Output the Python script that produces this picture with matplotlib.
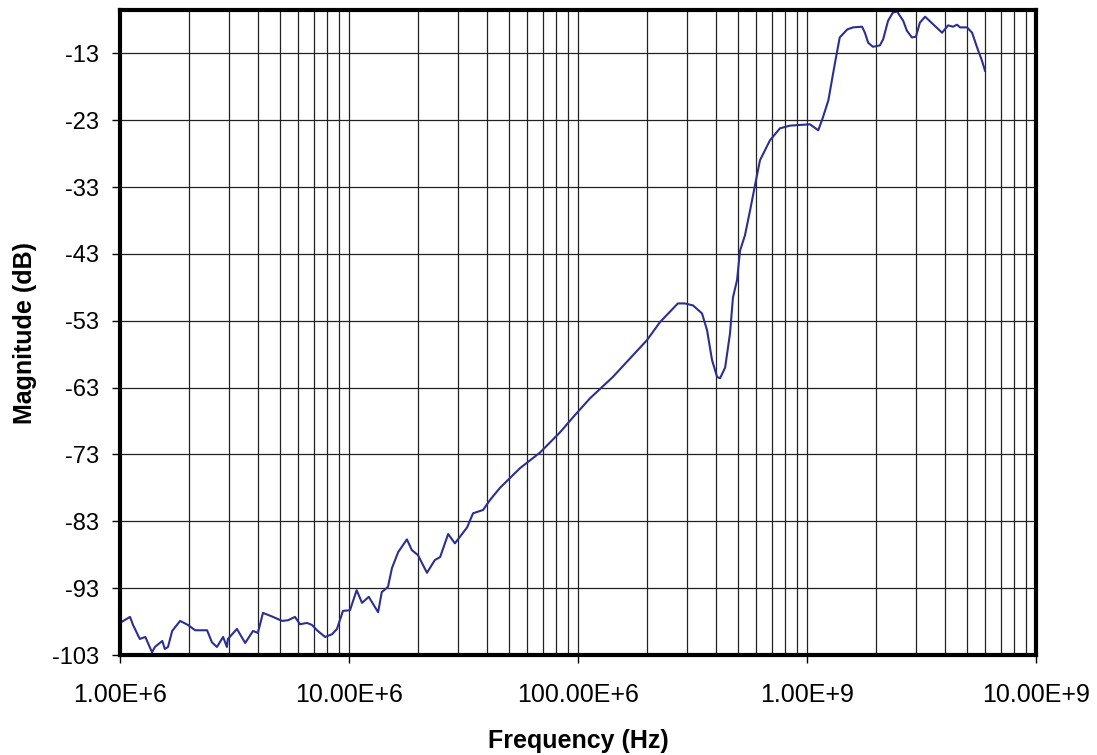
import numpy as np
import matplotlib
matplotlib.use("Agg")
import matplotlib.pyplot as plt
from matplotlib.ticker import FixedLocator, NullFormatter

# frequency response (Hz, dB)
freq_hz = [1.00e6, 1.106e6, 1.14e6, 1.22e6, 1.29e6, 1.38e6, 1.42e6, 1.53e6, 1.57e6, 1.62e6,
           1.69e6, 1.83e6, 1.98e6, 2.13e6, 2.40e6, 2.52e6, 2.65e6, 2.82e6, 2.93e6, 2.96e6,
           3.24e6, 3.52e6, 3.81e6, 4.00e6, 4.21e6, 4.66e6, 5.10e6, 5.42e6, 5.81e6, 6.11e6,
           6.55e6, 6.89e6, 7.25e6, 7.86e6, 8.43e6, 8.86e6, 9.41e6, 10.1e6, 10.8e6, 11.4e6,
           12.2e6, 13.4e6, 13.9e6, 14.8e6, 15.4e6, 16.4e6, 17.9e6, 18.8e6, 20.0e6, 21.9e6,
           23.7e6, 25.0e6, 27.1e6, 29.0e6, 32.8e6, 34.8e6, 38.5e6, 41.3e6, 45.6e6, 55.8e6,
           68.3e6, 83.4e6, 97.0e6, 112.8e6, 142e6, 169e6, 200e6, 228e6, 273e6, 293e6,
           318e6, 348e6, 366e6, 385e6, 405e6, 417e6, 439e6, 461e6, 475e6, 495e6,
           510e6, 536e6, 564e6, 593e6, 623e6, 655e6, 689e6, 762e6, 843e6, 1.03e9,
           1.12e9, 1.17e9, 1.24e9, 1.30e9, 1.33e9, 1.39e9, 1.50e9, 1.59e9, 1.74e9, 1.79e9,
           1.85e9, 1.94e9, 2.08e9, 2.15e9, 2.26e9, 2.37e9, 2.47e9, 2.63e9, 2.73e9, 2.87e9,
           2.99e9, 3.11e9, 3.28e9, 3.52e9, 3.89e9, 4.13e9, 4.34e9, 4.52e9, 4.66e9, 5.00e9,
           5.26e9, 5.53e9, 5.81e9, 5.99e9]
magnitude_db = [-98.2, -97.3, -98.5, -100.6, -100.3, -102.6, -101.8, -100.9, -102.1, -101.8,
                -99.4, -97.9, -98.5, -99.3, -99.3, -101.1, -101.8, -100.3, -101.8, -100.6,
                -99.1, -101.2, -99.4, -99.7, -96.7, -97.3, -97.9, -97.8, -97.3, -98.4,
                -98.2, -98.5, -99.3, -100.3, -99.9, -99.1, -96.4, -96.3, -93.3, -95.2,
                -94.3, -96.6, -93.6, -92.8, -90.0, -87.6, -85.7, -87.3, -88.05, -90.7,
                -88.8, -88.35, -84.9, -86.3, -83.9, -81.8, -81.3, -79.8, -78.0, -75.05,
                -72.7, -69.7, -67.1, -64.6, -61.4, -58.6, -55.9, -53.2, -50.4, -50.4,
                -50.7, -51.9, -54.4, -58.9, -61.4, -61.6, -60.0, -54.9, -49.5, -46.9,
                -42.5, -40.2, -36.5, -32.7, -29.0, -27.5, -26.0, -24.2, -23.8, -23.6,
                -24.5, -22.7, -20.0, -16.0, -14.1, -10.6, -9.4, -9.1, -9.0, -9.9,
                -11.4, -12.0, -11.8, -10.9, -8.1, -6.9, -6.7, -8.1, -9.6, -10.6,
                -10.5, -8.4, -7.5, -8.5, -9.9, -8.8, -9.0, -8.7, -9.1, -9.1,
                -9.9, -12.1, -14.1, -15.6]

y_ticks = [-103, -93, -83, -73, -63, -53, -43, -33, -23, -13]
x_ticks = [1e6, 1e7, 1e8, 1e9, 1e10]
x_labels = ["1.00E+6", "10.00E+6", "100.00E+6", "1.00E+9", "10.00E+9"]

plt.rcParams['font.family'] = ['Liberation Sans', 'DejaVu Sans']

fig = plt.figure(figsize=(10.97, 7.55), dpi=100)
ax = fig.add_axes([120/1097, 1 - 655/755, (1036-120)/1097, (655-10)/755])

ax.plot(freq_hz, magnitude_db, color='#2b3090', lw=1.5, zorder=3)

ax.set_xscale('log')
ax.set_xlim(1e6, 1e10)
ax.set_ylim(-103, -6.5)

ax.xaxis.set_major_locator(FixedLocator(x_ticks))
ax.set_xticklabels(x_labels, fontsize=18)
minor = [m * 10**d for d in range(6, 10) for m in range(2, 10)]
ax.xaxis.set_minor_locator(FixedLocator(minor))
ax.xaxis.set_minor_formatter(NullFormatter())
ax.set_yticks(y_ticks)
ax.set_yticklabels([str(v) for v in y_ticks], fontsize=17)

ax.grid(True, which='both', axis='x', color='#222222', lw=0.9)
ax.grid(True, which='major', axis='y', color='#222222', lw=0.9)
ax.tick_params(axis='both', which='major', direction='out', length=6, width=1, color='black')
ax.tick_params(axis='x', which='major', pad=14)
ax.tick_params(axis='y', which='major', pad=9)
ax.tick_params(axis='x', which='minor', length=0)

for s in ax.spines.values():
    s.set_linewidth(3)
    s.set_color('black')
    s.set_zorder(4)

ax.set_xlabel("Frequency (Hz)", fontsize=18, fontweight='bold', labelpad=16)
ax.set_ylabel("Magnitude (dB)", fontsize=18, fontweight='bold', labelpad=11)

fig.savefig("out.png", dpi=100)
